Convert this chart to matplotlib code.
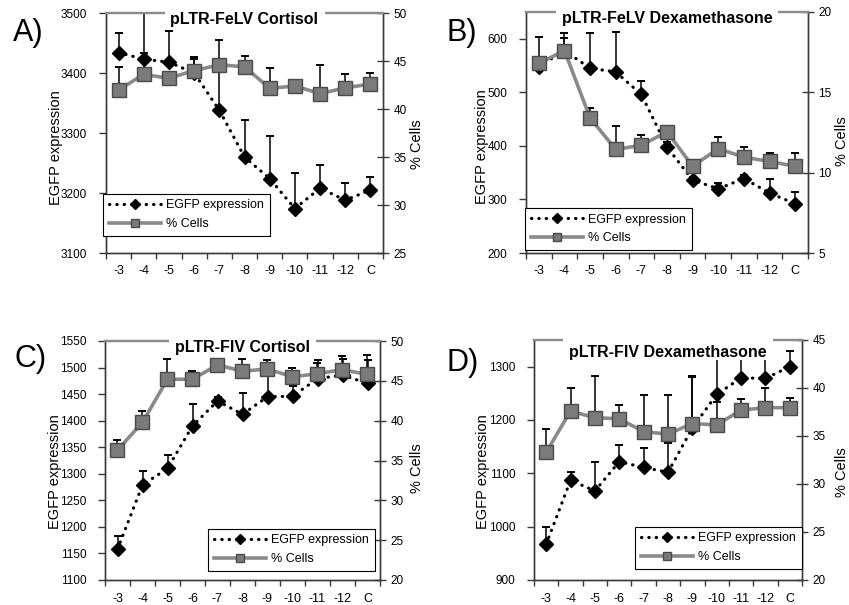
import matplotlib
matplotlib.use('Agg')
import matplotlib.pyplot as plt
from matplotlib.lines import Line2D
from matplotlib.patches import Rectangle
import numpy as np

plt.rcParams['font.family'] = ['Liberation Sans', 'DejaVu Sans']

categories = ['-3', '-4', '-5', '-6', '-7', '-8', '-9', '-10', '-11', '-12', 'C']

# Panel A: pLTR-FeLV Cortisol
A_egfp = [3434, 3423, 3418, 3400, 3338, 3260, 3224, 3174, 3208, 3188, 3205]
A_egfp_err = [33, 77, 52, 23, 117, 62, 71, 60, 39, 29, 21]
A_cells = [42.0, 43.6, 43.2, 44.0, 44.6, 44.4, 42.15, 42.4, 41.6, 42.2, 42.6]
A_cells_err = [2.4, 2.2, 0.4, 1.45, 0.3, 1.1, 2.15, 0.2, 3.0, 1.4, 1.2]

# Panel B: pLTR-FeLV Dexamethasone
B_egfp = [548, 578, 545, 538, 496, 398, 336, 320, 339, 312, 292]
B_egfp_err = [56, 33, 65, 75, 26, 10, 5, 10, 6, 27, 22]
B_cells = [16.8, 17.6, 13.4, 11.45, 11.7, 12.55, 10.4, 11.5, 10.96, 10.7, 10.4]
B_cells_err = [0.4, 0.8, 0.6, 1.45, 0.65, 0.2, 0.2, 0.75, 0.65, 0.55, 0.8]

# Panel C: pLTR-FIV Cortisol
C_egfp = [1158, 1279, 1310, 1390, 1437, 1412, 1445, 1446, 1479, 1486, 1470]
C_egfp_err = [25, 26, 25, 42, 8, 41, 55, 19, 36, 31, 45]
C_cells = [36.3, 39.8, 45.2, 45.2, 47.0, 46.2, 46.5, 45.5, 45.9, 46.4, 45.8]
C_cells_err = [1.3, 1.4, 2.5, 1.0, 0.1, 1.6, 1.1, 1.1, 1.4, 1.7, 2.4]

# Panel D: pLTR-FIV Dexamethasone
D_egfp = [967, 1087, 1067, 1122, 1111, 1102, 1185, 1248, 1279, 1278, 1300]
D_egfp_err = [32, 16, 55, 31, 37, 54, 96, 75, 45, 42, 30]
D_cells = [33.3, 37.6, 36.9, 36.8, 35.45, 35.2, 36.3, 36.15, 37.7, 37.95, 37.95]
D_cells_err = [2.4, 2.45, 4.3, 1.4, 3.85, 4.1, 4.9, 2.35, 1.2, 2.1, 1.05]

W, H = 849, 605
fig = plt.figure(figsize=(W / 100, H / 100), dpi=100)

GRAY_LINE = '#8a8a8a'
GRAY_FILL = '#7a7a7a'
GRAY_EDGE = '#4a4a4a'
SPINE = '#3a3a3a'

titles = []


def panel(box, letter, letter_xy, title, title_dy, egfp, egfp_err, cells, cells_err,
          ylim_l, yticks_l, ylim_r, yticks_r, leg_anchor, ylab_l, ylab_r):
    l, r, t, b = box
    ax = fig.add_axes([l / W, 1 - b / H, (r - l) / W, (b - t) / H])
    ax2 = ax.twinx()
    n = len(categories)
    x = np.arange(n)

    ax.errorbar(x, egfp, yerr=[np.zeros(n), egfp_err], fmt='none', ecolor='black',
                elinewidth=1.1, capsize=3, capthick=1.4, zorder=2)
    ax.plot(x, egfp, linestyle=(0, (0.1, 2.2)), lw=2.3, color='black',
            dash_capstyle='round', zorder=3)
    ax.plot(x, egfp, linestyle='none', marker='D', ms=7, color='black', zorder=4)

    ax2.errorbar(x, cells, yerr=[np.zeros(n), cells_err], fmt='none', ecolor='black',
                 elinewidth=1.1, capsize=3, capthick=1.4, zorder=2)
    ax2.plot(x, cells, '-', color=GRAY_LINE, lw=2.6, zorder=3)
    ax2.plot(x, cells, linestyle='none', marker='s', ms=9.5, mfc=GRAY_FILL,
             mec=GRAY_EDGE, mew=1.0, zorder=4)

    ax.set_xlim(-0.5, n - 0.5)
    ax.set_ylim(*ylim_l)
    ax.set_yticks(yticks_l)
    ax2.set_ylim(*ylim_r)
    ax2.set_yticks(yticks_r)

    ax.set_xticks(np.arange(-0.5, n, 1.0))
    ax.set_xticks(x, minor=True)
    ax.set_xticklabels([], minor=False)
    ax.set_xticklabels(categories, minor=True)
    ax.tick_params(axis='x', which='major', length=4, width=1, color=SPINE,
                   direction='out', labelbottom=False)
    ax.tick_params(axis='x', which='minor', length=0, pad=9, labelsize=9)
    ax.tick_params(axis='y', length=5, width=1, color=SPINE, direction='out',
                   pad=8.5, labelsize=8.5)
    ax2.tick_params(axis='y', length=8, width=1, color=SPINE, direction='inout',
                    pad=3.5, labelsize=8.5)

    for a in (ax, ax2):
        for s in ('left', 'bottom', 'right'):
            a.spines[s].set_color(SPINE)
            a.spines[s].set_linewidth(1.0)
        a.spines['top'].set_color('#8c8c8c')
        a.spines['top'].set_linewidth(1.6)

    ax.set_ylabel('EGFP expression', fontsize=10.5)
    ax.yaxis.set_label_coords(ylab_l[0], ylab_l[1])
    ax2.set_ylabel('% Cells', fontsize=10.5)
    ax2.yaxis.set_label_coords(ylab_r[0], ylab_r[1])

    tt = fig.text((l + r) / 2 / W, 1 - (t + title_dy) / H, title,
                  ha='center', va='center', fontsize=11.5, fontweight='bold',
                  zorder=5)
    titles.append((tt, t))

    h1 = Line2D([], [], linestyle=(0, (0.1, 2.2)), lw=2.3, color='black',
                dash_capstyle='round', marker='D', ms=5.5, mfc='black', mec='black')
    h2 = Line2D([], [], linestyle='-', lw=2.6, color=GRAY_LINE, marker='s', ms=6,
                mfc=GRAY_FILL, mec=GRAY_EDGE, mew=1.0)
    leg = ax2.legend([h1, h2], ['EGFP expression', '% Cells'], loc='lower left',
                     bbox_to_anchor=leg_anchor, borderaxespad=0, fontsize=9,
                     handlelength=4.2, handletextpad=0.4, borderpad=0.45,
                     labelspacing=0.55, fancybox=False, framealpha=1,
                     edgecolor='black', numpoints=1)
    leg.get_frame().set_linewidth(0.8)
    leg.set_zorder(9)

    fig.text(letter_xy[0] / W, 1 - letter_xy[1] / H, letter, fontsize=22,
             ha='left', va='center')
    return ax, ax2


panel((106, 383, 13, 253), 'A)', (13, 33), 'pLTR-FeLV Cortisol', 6.5,
      A_egfp, A_egfp_err, A_cells, A_cells_err,
      (3100, 3500), np.arange(3100, 3501, 100), (25, 50), np.arange(25, 51, 5),
      (-0.011, 0.071), (-0.155, 0.4375), (1.097, 0.454))

panel((526, 808, 12, 253), 'B)', (447, 33), 'pLTR-FeLV Dexamethasone', 7,
      B_egfp, B_egfp_err, B_cells, B_cells_err,
      (200, 650), np.arange(200, 601, 100), (5, 20), np.arange(5, 21, 5),
      (-0.003, 0.012), (-0.13, 0.44), (1.096, 0.463))

panel((105, 380, 341, 580), 'C)', (15, 359), 'pLTR-FIV Cortisol', 6.6,
      C_egfp, C_egfp_err, C_cells, C_cells_err,
      (1100, 1550), np.arange(1100, 1551, 50), (20, 50), np.arange(20, 51, 5),
      (0.375, 0.038), (-0.157, 0.455), (1.109, 0.47))

panel((534, 802, 340, 580), 'D)', (447, 363), 'pLTR-FIV Dexamethasone', 13,
      D_egfp, D_egfp_err, D_cells, D_cells_err,
      (900, 1350), np.arange(900, 1301, 100), (20, 45), np.arange(20, 46, 5),
      (0.377, 0.046), (-0.166, 0.45), (1.125, 0.45))

# white box behind each title that breaks the top frame line
fig.canvas.draw()
renderer = fig.canvas.get_renderer()
for tt, top in titles:
    bb = tt.get_window_extent(renderer)
    x0 = bb.x0 - 6
    x1 = bb.x1 + 6
    y0 = bb.y0 + 1
    y1 = (H - top) + 4
    fig.patches.append(Rectangle((x0 / W, y0 / H), (x1 - x0) / W, (y1 - y0) / H,
                                 transform=fig.transFigure, fc='white', ec='none',
                                 zorder=4))

fig.savefig('out.png', dpi=100)
